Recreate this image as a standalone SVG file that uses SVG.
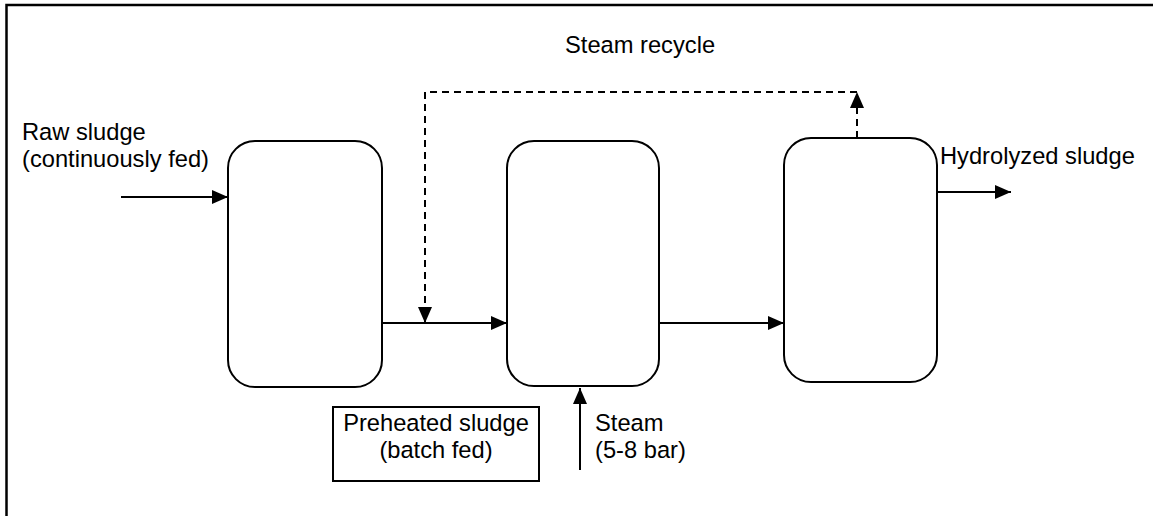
<svg xmlns="http://www.w3.org/2000/svg" width="1153" height="516" viewBox="0 0 1153 516">
  <style>
    .vessel { fill: #fff; stroke: #000; stroke-width: 2; }
    .frame { fill: none; stroke: #000; stroke-width: 2.5; }
    .flow { fill: none; stroke: #000; stroke-width: 2; }
    .recycle { fill: none; stroke: #000; stroke-width: 2; stroke-dasharray: 7 5; }
    .label { font-family: "Liberation Sans", Arial, sans-serif; font-size: 23.7px; fill: #000; }
  </style>
  <defs>
    <marker id="arrow" viewBox="0 0 16 14" refX="16" refY="7" markerWidth="16" markerHeight="14" markerUnits="userSpaceOnUse" orient="auto">
      <path d="M0,0 L16,7 L0,14 Z" fill="#000"/>
    </marker>
  </defs>
  <rect width="1153" height="516" fill="#fff"/>

  <!-- outer frame: top and left edges only -->
  <path class="frame" d="M6.5,516 L6.5,5 L1153,5"/>

  <!-- preheater, reactor and flash tank -->
  <g id="preheater">
    <rect class="vessel" x="228" y="141" width="154" height="246" rx="27" ry="27"/>
  </g>
  <g id="reactor">
    <rect class="vessel" x="507" y="141" width="152" height="245" rx="27" ry="27"/>
  </g>
  <g id="flash-tank">
    <rect class="vessel" x="784" y="138" width="153" height="244" rx="27" ry="27"/>
  </g>

  <g id="preheated-note">
    <rect x="333" y="407" width="206" height="74" fill="#fff" stroke="#000" stroke-width="2"/>
    <text class="label" x="436" y="431" text-anchor="middle">Preheated sludge</text>
    <text class="label" x="436" y="458" text-anchor="middle">(batch fed)</text>
  </g>

  <!-- stream connectors -->
  <g id="connectors">
    <line class="flow" x1="121" y1="197" x2="228" y2="197" marker-end="url(#arrow)"/>
    <line class="flow" x1="382" y1="323" x2="507" y2="323" marker-end="url(#arrow)"/>
    <line class="flow" x1="659" y1="323" x2="784" y2="323" marker-end="url(#arrow)"/>
    <line class="flow" x1="937" y1="192" x2="1011" y2="192" marker-end="url(#arrow)"/>
    <line class="flow" x1="580" y1="470" x2="580" y2="388" marker-end="url(#arrow)"/>
    <line class="recycle" x1="857" y1="138" x2="857" y2="92" marker-end="url(#arrow)"/>
    <polyline class="recycle" points="857,92 425,92 425,323" marker-end="url(#arrow)"/>
  </g>

  <g id="labels">
    <text class="label" x="565" y="53">Steam recycle</text>
    <text class="label" x="22" y="140">Raw sludge</text>
    <text class="label" x="22" y="167">(continuously fed)</text>
    <text class="label" x="940" y="164">Hydrolyzed sludge</text>
    <text class="label" x="595" y="431">Steam</text>
    <text class="label" x="595" y="458">(5-8 bar)</text>
  </g>
</svg>
